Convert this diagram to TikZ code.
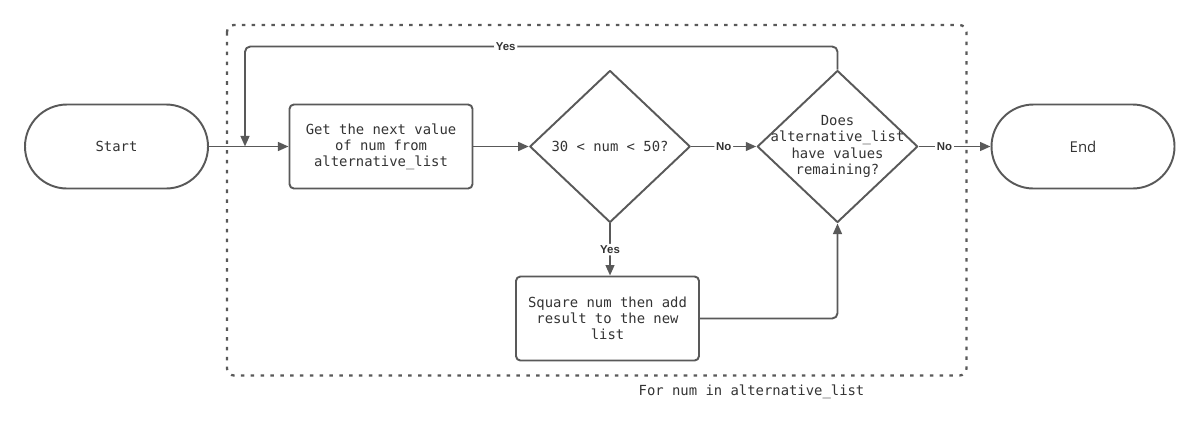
\documentclass[tikz,border=0pt]{standalone}
\usepackage{fontspec}
\setmonofont{DejaVu Sans Mono}
\setsansfont{Liberation Sans}
\newfontfamily\endfont{Open Sans}
\usetikzlibrary{shapes.geometric,arrows.meta}
\definecolor{linegray}{HTML}{595959}
\definecolor{textgray}{HTML}{333333}
\newcommand{\monotext}{\ttfamily\fontsize{7.9}{9.2}\selectfont}

\begin{document}
\begin{tikzpicture}
    [line join=round,
     every node/.style={text=textgray},
     term/.style={draw=linegray,line width=1.1pt,rounded corners=0.84cm,
       minimum width=3.66cm,minimum height=1.68cm,inner sep=0pt},
     proc/.style={draw=linegray,line width=1.1pt,rounded corners=2.5pt,
       minimum width=3.66cm,minimum height=1.68cm,inner sep=0pt,
       align=center,font=\monotext},
     decide/.style={draw=linegray,line width=1.1pt,diamond,inner sep=0pt,
       minimum width=3.21cm,minimum height=3.04cm},
     flow/.style={draw=linegray,line width=1.1pt,rounded corners=3pt,
       -{Triangle[length=6pt,width=5pt]}},
     tag/.style={fill=white,inner sep=1pt,
       font=\sffamily\bfseries\fontsize{6.5}{7}\selectfont},
     loopframe/.style={draw=linegray,line width=1.3pt,rounded corners=4pt,
       dash pattern=on 2pt off 3.6pt}]

    \useasboundingbox (0,0) rectangle (24,-8.68);

    % loop frame
    \draw[loopframe] (4.54,-0.5) rectangle (19.33,-7.51);
    \node[font=\monotext] (caption) at (15.03,-7.84) {For num in alternative\_list};

    % blocks
    \node[term,font=\monotext] (start) at (2.33,-2.93) {Start};
    \node[proc] (get) at (7.62,-2.93) {Get the next value\\of num from\\alternative\_list};
    \node[decide,label={[font=\monotext]center:30 < num < 50?}] (chk) at (12.2,-2.93) {};
    \node[decide,label={[font=\monotext,align=center]center:{Does\\alternative\_list\\have values\\remaining?}}] (more) at (16.75,-2.93) {};
    \node[term,font=\endfont\fontsize{8.5}{10}\selectfont] (stop) at (21.66,-2.93) {End};
    \node[proc] (sq) at (12.15,-6.37) {Square num then add\\result to the new\\list};

    \coordinate (back) at (4.9,-0.93);

    % connectors
    \draw[flow] (start) -- (get);
    \draw[flow] (get) -- (chk);
    \draw[flow] (chk) -- node[tag]{No} (more);
    \draw[flow] (more) -- node[tag,pos=0.36]{No} (stop);
    \draw[flow] (chk.south) -- node[tag]{Yes} (chk.south |- sq.north);
    \draw[flow] (sq.east) -| (more.south);
    \draw[flow] (more.north) |- node[tag,pos=0.78]{Yes} (back) -- (back |- start.east);
  \end{tikzpicture}
\end{document}
